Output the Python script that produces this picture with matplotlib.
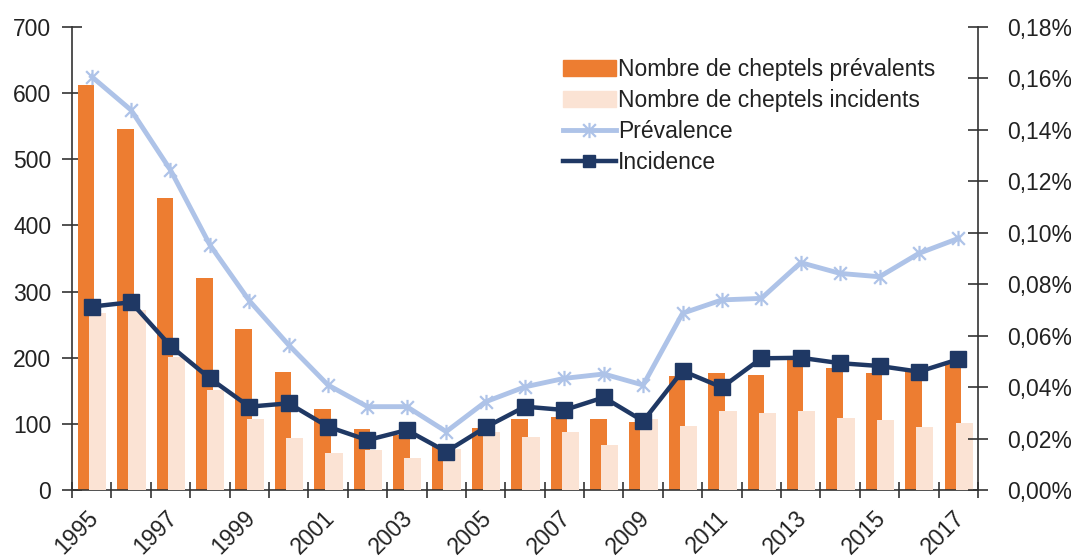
import numpy as np
import matplotlib
matplotlib.use("Agg")
import matplotlib.pyplot as plt
from matplotlib.path import Path
from matplotlib.patches import Patch
from matplotlib.lines import Line2D
from matplotlib.ticker import FuncFormatter, FixedLocator
from matplotlib.transforms import ScaledTranslation

plt.rcParams['font.family'] = ['Liberation Sans', 'DejaVu Sans']

# données
annees = list(range(1995, 2018))
prevalents = [612, 546, 442, 321, 243, 179, 123, 92, 83, 66, 93, 107, 110, 107, 103,
              172, 177, 174, 197, 184, 177, 181, 192]
incidents = [268, 272, 201, 151, 108, 78, 56, 60, 48, 62, 88, 80, 88, 68, 108,
             97, 119, 117, 119, 109, 106, 96, 101]
prevalence = [0.1607, 0.1477, 0.1244, 0.0953, 0.0736, 0.0564, 0.0408, 0.0324, 0.0324,
              0.0227, 0.0343, 0.0401, 0.0434, 0.0451, 0.0408, 0.0687, 0.0739, 0.0745,
              0.0884, 0.0842, 0.0829, 0.0920, 0.0978]
incidence = [0.0713, 0.0730, 0.0560, 0.0434, 0.0324, 0.0337, 0.0246, 0.0194, 0.0233,
             0.0149, 0.0244, 0.0324, 0.0311, 0.0360, 0.0268, 0.0463, 0.0399, 0.0512,
             0.0514, 0.0493, 0.0482, 0.0460, 0.0508]

c_orange = '#ED7D31'
c_pale = '#FBE3D4'
c_bleu = '#AEC3E8'
c_navy = '#1F3864'
fs = 16.5

# marqueur étoile façon Excel
etoile = Path([(-1, -1), (1, 1), (-1, 1), (1, -1), (0, -1.2), (0, 1.2)],
              [Path.MOVETO, Path.LINETO, Path.MOVETO, Path.LINETO, Path.MOVETO, Path.LINETO])

fig = plt.figure(figsize=(10.71, 5.57), dpi=100)
ax = fig.add_axes([72/1071, 1-490/557, (978-72)/1071, (490-27)/557])
x = np.arange(len(annees))

ax.bar(x - 0.14, prevalents, width=0.42, color=c_orange, zorder=2)
ax.bar(x + 0.15, incidents, width=0.44, color=c_pale, zorder=3)
ax.set_ylim(0, 700)
ax.set_xlim(-0.5, len(annees) - 0.5)
ax.set_yticks(range(0, 701, 100))

ax2 = ax.twinx()
ax2.plot(x, prevalence, color=c_bleu, lw=3.5, marker=etoile, ms=11, mew=1.6,
         mec=c_bleu, solid_joinstyle='round', zorder=4)
ax2.plot(x, incidence, color=c_navy, lw=3.2, marker='s', ms=11, mfc=c_navy, mec=c_navy,
         solid_joinstyle='round', zorder=5)
ax2.set_ylim(0, 0.18)
ax2.set_yticks(np.arange(0, 0.1801, 0.02))
ax2.yaxis.set_major_formatter(FuncFormatter(lambda v, p: f"{v:.2f}".replace('.', ',') + '%'))

for a in (ax, ax2):
    a.spines['top'].set_visible(False)
    for s in a.spines.values():
        s.set_color('#333333')
        s.set_linewidth(1.2)
ax.spines['right'].set_visible(False)
ax2.spines['left'].set_visible(False)
ax2.spines['bottom'].set_visible(False)

ax.tick_params(axis='y', direction='inout', length=14, width=1.2, labelsize=fs, pad=8,
               colors='#333333', labelcolor='#222222')
ax2.tick_params(axis='y', direction='inout', length=14, width=1.2, labelsize=fs, pad=14,
                colors='#333333', labelcolor='#222222')

# x : traits entre les catégories, étiquettes une année sur deux
ax.xaxis.set_major_locator(FixedLocator(np.arange(-0.5, len(annees), 1)))
ax.xaxis.set_minor_locator(FixedLocator(x[::2]))
ax.set_xticklabels([], minor=False)
ax.set_xticklabels([str(a) for a in annees[::2]], minor=True)
ax.tick_params(axis='x', which='major', direction='inout', length=12, width=1.2, colors='#333333')
ax.tick_params(axis='x', which='minor', length=0, labelsize=fs, pad=12, labelcolor='#222222')
decal = ScaledTranslation(0.11, 0, fig.dpi_scale_trans)
for lab in ax.get_xticklabels(minor=True):
    lab.set_rotation(45)
    lab.set_ha('right')
    lab.set_va('top')
    lab.set_transform(lab.get_transform() + decal)

handles = [Patch(color=c_orange), Patch(color=c_pale),
           Line2D([], [], color=c_bleu, lw=3.5, marker=etoile, ms=11, mew=1.6),
           Line2D([], [], color=c_navy, lw=3.2, marker='s', ms=9)]
labels = ['Nombre de cheptels prévalents', 'Nombre de cheptels incidents',
          'Prévalence', 'Incidence']
fig.legend(handles, labels, loc='upper left', bbox_to_anchor=(563/1071, 1-58/557),
           frameon=False, fontsize=fs, handlelength=2.3, handletextpad=0.1,
           labelspacing=0.35, borderpad=0, borderaxespad=0, labelcolor='#222222')

fig.savefig('out.png', dpi=100)
